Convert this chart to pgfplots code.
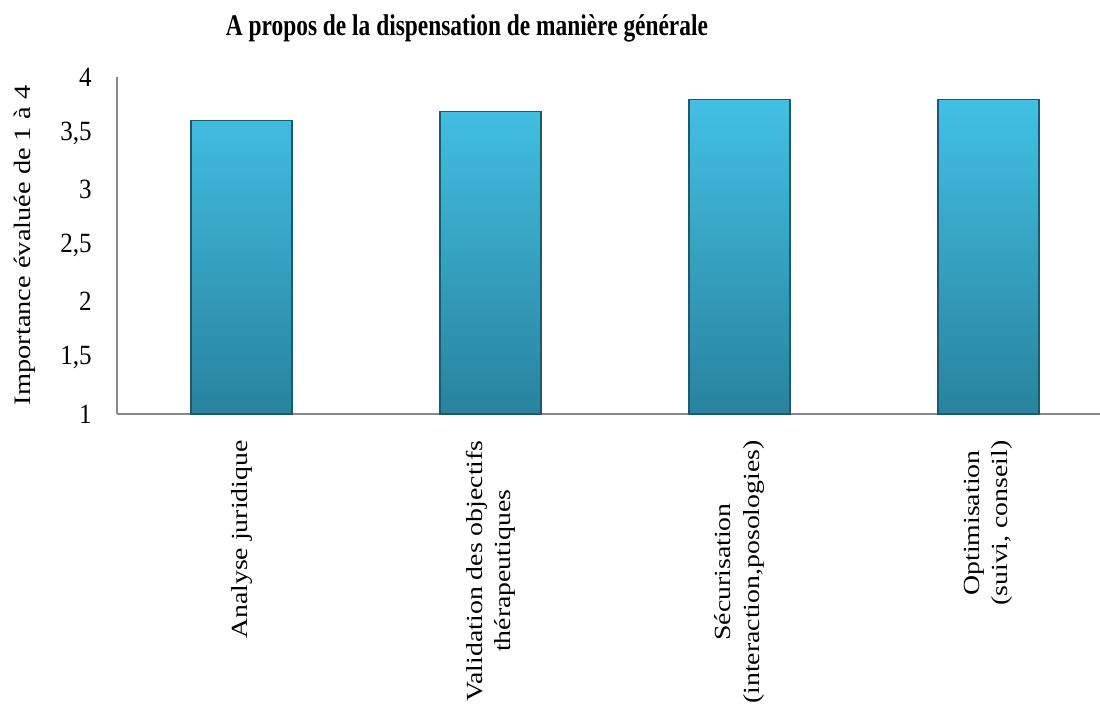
\documentclass[border=0pt]{standalone}
\usepackage{fontspec}
\setmainfont{Liberation Serif}
\usepackage{pgfplots}
\pgfplotsset{compat=1.18}
\definecolor{bartop}{RGB}{66,192,228}
\definecolor{barbot}{RGB}{40,131,158}
\definecolor{baredge}{RGB}{27,90,112}
\definecolor{axgray}{RGB}{136,136,136}
\newcommand{\lblfont}{\fontsize{13.9}{17}\selectfont}

\begin{document}
\begin{tikzpicture}
\begin{axis}[
    name=ax,
    scale only axis,
    width=491.5pt, height=168.5pt,
    ymin=1, ymax=4,
    xmin=-0.5, xmax=3.448,
    ytick={1,1.5,...,4},
    xtick={0,1,2,3},
    xticklabels={Analyse juridique,
                 {Validation des objectifs\\th\'erapeutiques},
                 {S\'ecurisation\\(interaction,posologies)},
                 {Optimisation\\(suivi, conseil)}},
    axis lines=left,
    axis line style={-, draw=axgray, line width=1pt},
    major tick length=0pt,
    tick style={draw=none},
    tick label style={font=\lblfont, inner sep=0pt},
    yticklabel style={anchor=east, xscale=0.9,
                      /pgf/number format/use comma,
                      /pgf/number format/assume math mode=true},
    yticklabel shift=12.5pt,
    xticklabel shift=13pt,
    xticklabel style={xscale=0.83, rotate=90, anchor=east, align=center},
    title={A propos de la dispensation de mani\`ere g\'en\'erale},
    title style={font=\bfseries\fontsize{15}{18}\selectfont, xscale=0.78,
                 at={(axis description cs:0.356,1.11)}, anchor=center},
    ylabel={Importance \'evalu\'ee de 1 \`a 4},
    ylabel style={font=\fontsize{14.2}{17}\selectfont, yscale=0.83,
                  at={(axis description cs:-0.0936,0.50)}, anchor=center},
]
\addplot[ybar, bar width=50.5pt, draw=baredge, line width=0.6pt,
         top color=bartop, bottom color=barbot]
    coordinates {(0,3.61) (1,3.69) (2,3.80) (3,3.80)};
\end{axis}
\pgfresetboundingbox
\path[use as bounding box] ([xshift=-58.5pt,yshift=-144.5pt]ax.south west)
    rectangle ([yshift=38.5pt]ax.north east);
\end{tikzpicture}
\end{document}
